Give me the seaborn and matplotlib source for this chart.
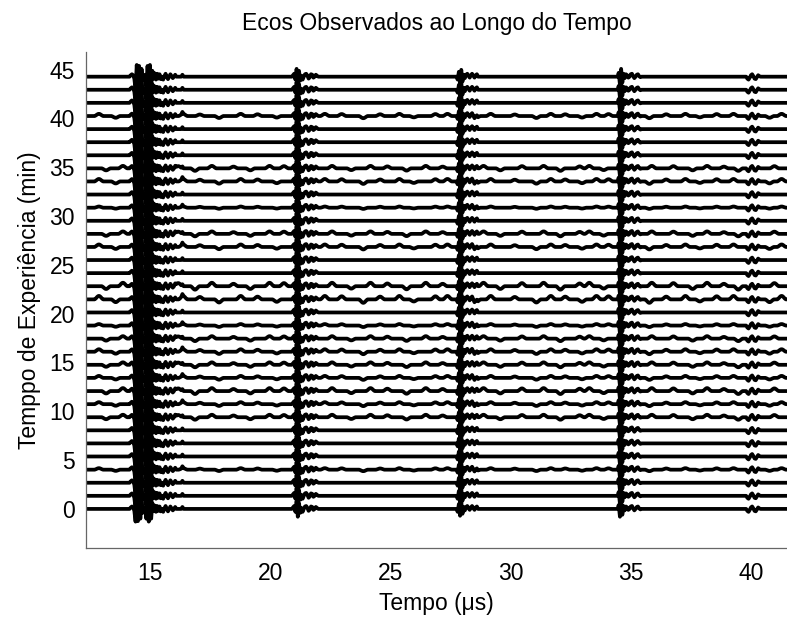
import numpy as np
import pandas as pd
import matplotlib
matplotlib.use("Agg")
import matplotlib.pyplot as plt
import seaborn as sns

# ---------------- data ----------------
title = "Ecos Observados ao Longo do Tempo"
x_label = "Tempo (\u03bcs)"
y_label = "Temppo de Experiência (min)"
x_ticks = [15, 20, 25, 30, 35, 40]
y_ticks = [0, 5, 10, 15, 20, 25, 30, 35, 40, 45]

# acquisition time of each trace (min) = vertical offset
trace_minutes = [0.00, 1.34, 2.68, 4.02, 5.37, 6.71, 8.05, 9.39, 10.73, 12.07,
                 13.42, 14.76, 16.10, 17.44, 18.78, 20.12, 21.46, 22.81, 24.15,
                 25.49, 26.83, 28.17, 29.51, 30.85, 32.20, 33.54, 34.88, 36.22,
                 37.56, 38.90, 40.24, 41.59, 42.93, 44.27]

sample_step = 0.05          # µs
time_start, time_end = 12.35, 41.50

# echo waveforms (samples every 0.05 µs, starting at echo_starts)
echo_starts = [14.15, 20.90, 27.75, 34.45, 39.80]
echo_1 = [0.0, 0.15, 0.25, 0.15, -0.2, -1.3, 1.2, -1.25, 1.1, -1.0, 0.8,
          -0.4, 0.0, 0.2, -1.0, 1.1, -1.3, 1.2, -1.0, 0.6, -0.2, 0.35, -0.3,
          0.3, -0.2, 0.25, -0.25, 0.0, -0.3, 0.05, 0.3, 0.0, -0.25, 0.0, 0.25,
          0.05, -0.15, 0.0, 0.2, 0.0, 0.0, 0.0, 0.0, 0.0, 0.2, 0.0]
echo_2 = [0.0, 0.15, 0.3, -0.3, 0.8, -0.8, 0.6, -0.4, 0.1, -0.3, 0.0, 0.25,
          0.3, 0.1, -0.2, -0.05, 0.25, 0.2, -0.1, 0.0, 0.2, 0.1, 0.0]
echo_3 = [0.0, -0.3, 0.5, -0.7, 0.7, -0.5, 0.2, -0.15, 0.2, 0.3, 0.1, -0.1,
          0.15, 0.3, 0.1, -0.1, 0.15, 0.25, 0.0, 0.0]
echo_4 = [0.0, 0.4, -0.8, 0.8, -0.6, 0.3, -0.15, 0.25, 0.15, -0.1, 0.0, 0.25,
          0.3, 0.05, -0.15, 0.0, 0.2, 0.25, 0.05, -0.05, 0.0]
echo_5 = [0.0, -0.2, -0.3, -0.1, 0.15, 0.25, 0.05, -0.2, -0.25, -0.05, 0.15,
          0.05, 0.0]

# small ripples seen on some traces
ripple_a_times = [12.9, 13.6, 16.4, 17.1, 17.9, 18.8, 19.5, 20.3, 22.3, 23.0,
                  23.9, 24.6, 25.4, 26.0, 26.9, 27.4, 28.6, 29.2, 30.2, 31.1,
                  31.7, 32.3, 33.0, 33.6, 34.1, 35.8, 36.5, 37.3, 37.9, 38.6,
                  39.3, 40.8, 41.3]
ripple_a_heights = [1.0, -0.8, 1.0, 0.7, -0.9, 1.0, 0.8, -0.7, 1.0, 0.9, -1.0,
                    0.8, 1.0, -0.6, 0.9, 1.0, -0.8, 1.0, 0.7, -0.9, 1.0, 0.8,
                    -0.7, 1.0, 0.9, -1.0, 0.8, 1.0, -0.6, 0.9, 1.0, -0.8, 1.0]
ripple_b_times = [13.2, 13.9, 16.2, 16.9, 17.6, 18.5, 19.2, 20.0, 20.6, 22.6,
                  23.4, 24.2, 24.9, 25.7, 26.5, 27.2, 28.9, 29.6, 30.5, 31.4,
                  32.1, 32.9, 33.3, 33.9, 35.9, 36.8, 37.6, 38.2, 38.9, 39.5,
                  41.0]
ripple_b_heights = [-0.8, 1.0, 0.9, -1.0, 1.0, 0.7, -0.8, 1.0, 0.9, 1.0, -0.7,
                    1.0, 0.8, -0.9, 1.0, 0.7, 1.0, -0.8, 0.9, 1.0, -1.0, 0.8,
                    1.0, -0.7, 1.0, 0.9, -0.8, 1.0, 0.7, -1.0, 0.9]
ripple_shape = [0.3, 0.7, 1.0, 1.0, 0.7, 0.3]

noisy_traces = [3, 7, 8, 9, 10, 11, 12, 13, 14, 16, 17, 20, 21, 23, 25, 26, 30]
noisy_amps = [0.15, 0.25, 0.2, 0.3, 0.2, 0.25, 0.25, 0.25, 0.15, 0.35, 0.35,
              0.25, 0.25, 0.12, 0.25, 0.25, 0.22]
noisy_pattern = ["A", "B", "A", "B", "A", "B", "A", "B", "A", "A", "B", "A",
                 "B", "A", "A", "B", "A"]

# ---------------- build the long table ----------------
n_samples = int(round((time_end - time_start) / sample_step)) + 1
time_axis = np.round(time_start + sample_step * np.arange(n_samples), 3)


def add_samples(signal, start_time, values, scale=1.0):
    i0 = int(round((start_time - time_start) / sample_step))
    for k, v in enumerate(values):
        j = i0 + k
        if 0 <= j < len(signal):
            signal[j] += scale * v


echoes = [echo_1, echo_2, echo_3, echo_4, echo_5]
ripples = {"A": (ripple_a_times, ripple_a_heights),
           "B": (ripple_b_times, ripple_b_heights)}
half = len(ripple_shape) // 2

frames = []
for idx, minute in enumerate(trace_minutes):
    sig = np.zeros(n_samples)
    for st, ec in zip(echo_starts, echoes):
        add_samples(sig, st, ec)
    if idx in noisy_traces:
        k = noisy_traces.index(idx)
        times, heights = ripples[noisy_pattern[k]]
        for t, h in zip(times, heights):
            add_samples(sig, t - half * sample_step, ripple_shape,
                        noisy_amps[k] * h)
    frames.append(pd.DataFrame({"tempo": time_axis,
                                "valor": minute + sig,
                                "traco": idx}))
df = pd.concat(frames, ignore_index=True)

# ---------------- plot ----------------
sns.set_theme(style="white")
plt.rcParams["font.family"] = ["Liberation Sans", "DejaVu Sans"]

fig = plt.figure(figsize=(7.87, 6.21), dpi=100)
ax = fig.add_axes([0.1093, 0.1176, 0.8907, 0.7987])

sns.lineplot(data=df, x="tempo", y="valor", units="traco", estimator=None,
             sort=False, color="black", linewidth=2.7, ax=ax, legend=False)

ax.set_xlim(12.34, 41.5)
ax.set_ylim(-4.0, 46.8)
ax.set_xticks(x_ticks)
ax.set_yticks(y_ticks)
ax.tick_params(axis="both", direction="in", length=4, width=0.8,
               colors="#333333", labelcolor="black", labelsize=16.5)
ax.tick_params(axis="y", pad=8)
ax.tick_params(axis="x", pad=10)

for side in ["top", "right"]:
    ax.spines[side].set_visible(False)
for side in ["left", "bottom"]:
    ax.spines[side].set_color("#666666")
    ax.spines[side].set_linewidth(0.9)

ax.set_title(title, fontsize=16.5, pad=16, color="black")
ax.set_xlabel(x_label, fontsize=16.5, labelpad=5, color="black")
ax.set_ylabel(y_label, fontsize=16.5, labelpad=6, color="black")

fig.savefig("out.png", dpi=100)
